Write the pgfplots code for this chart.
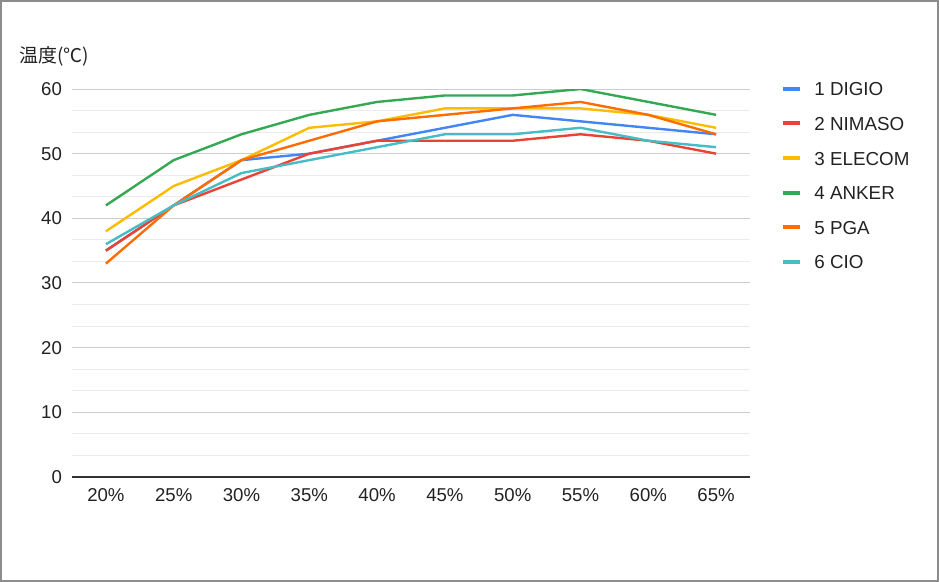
\documentclass[border=0pt]{standalone}
\usepackage{pgfplots}
\pgfplotsset{compat=1.18}
\usepackage{fontspec}
\setmainfont{Liberation Sans}
\newfontfamily\cjk{Noto Sans CJK JP}
\definecolor{c1}{HTML}{4285F4}
\definecolor{c2}{HTML}{EA4335}
\definecolor{c3}{HTML}{FBBC04}
\definecolor{c4}{HTML}{34A853}
\definecolor{c5}{HTML}{FF6D01}
\definecolor{c6}{HTML}{46BDC6}
\definecolor{txt}{HTML}{222222}
\begin{document}
\begin{tikzpicture}[x=0.5pt,y=0.5pt]
\path[use as bounding box] (0,0) rectangle (939,582);
\draw[color=black!45, line width=0.8pt] (1,1) rectangle (938,581);
\node[font=\fontsize{9.5}{11}\selectfont, text=txt, anchor=west, inner sep=0pt] at (19,526) {\cjk 温度(℃)};
\begin{axis}[
  at={(36pt,52.5pt)}, anchor=south west,
  scale only axis, width=339pt, height=194pt,
  xmin=-0.5, xmax=9.5, ymin=0, ymax=60,
  axis x line*=bottom, axis y line*=left,
  x axis line style={black!80, line width=0.6pt},
  y axis line style={draw=none},
  major tick length=0pt, minor tick length=0pt,
  xtick=data,
  xticklabels={20\%,25\%,30\%,35\%,40\%,45\%,50\%,55\%,60\%,65\%},
  ytick={0,10,20,30,40,50,60},
  minor y tick num=2,
  ymajorgrids, yminorgrids,
  major grid style={color=black!20, line width=0.5pt},
  minor grid style={color=black!8, line width=0.5pt},
  tick label style={font=\fontsize{9.3}{11}\selectfont, text=txt},
  /pgf/number format/assume math mode=true,
  yticklabel style={xshift=-1.5pt},
  xticklabel style={yshift=-2.3pt},
  every axis plot/.append style={line width=1.2pt, no markers},
  legend style={at={(1,1)}, anchor=north west, xshift=15.5pt, yshift=3.8pt,
    draw=none, fill=none, inner sep=0pt, row sep=10.3pt,
    font=\fontsize{9.4}{11}\selectfont, text=txt,
    nodes={inner sep=0pt, text height=7pt, text depth=0pt}},
  legend cell align=left,
  legend image code/.code={\path[draw=none] (0pt,0pt) -- (15.5pt,0pt);\draw[line width=2pt] (0pt,0pt) -- (8.5pt,0pt);},
]
\addplot[c1] coordinates {(0,35) (1,42) (2,49) (3,50) (4,52) (5,54) (6,56) (7,55) (8,54) (9,53)};
\addlegendentry{1 DIGIO}
\addplot[c2] coordinates {(0,35) (1,42) (2,46) (3,50) (4,52) (5,52) (6,52) (7,53) (8,52) (9,50)};
\addlegendentry{2 NIMASO}
\addplot[c3] coordinates {(0,38) (1,45) (2,49) (3,54) (4,55) (5,57) (6,57) (7,57) (8,56) (9,54)};
\addlegendentry{3 ELECOM}
\addplot[c4] coordinates {(0,42) (1,49) (2,53) (3,56) (4,58) (5,59) (6,59) (7,60) (8,58) (9,56)};
\addlegendentry{4 ANKER}
\addplot[c5] coordinates {(0,33) (1,42) (2,49) (3,52) (4,55) (5,56) (6,57) (7,58) (8,56) (9,53)};
\addlegendentry{5 PGA}
\addplot[c6] coordinates {(0,36) (1,42) (2,47) (3,49) (4,51) (5,53) (6,53) (7,54) (8,52) (9,51)};
\addlegendentry{6 CIO}
\end{axis}
\end{tikzpicture}
\end{document}
